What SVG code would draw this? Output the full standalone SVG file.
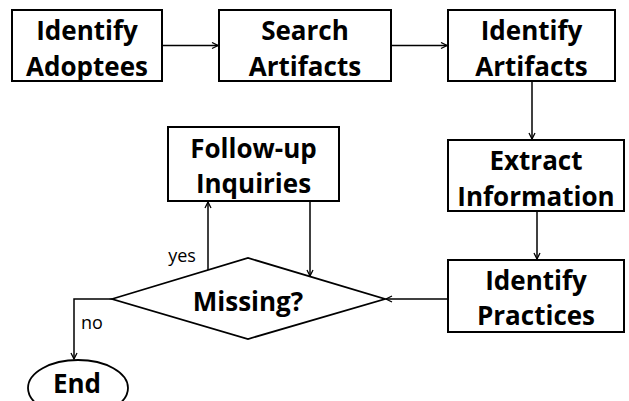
<svg xmlns="http://www.w3.org/2000/svg" width="629" height="401" viewBox="0 0 629 401">
<defs>
<style>
.box{fill:#fff;stroke:#000;stroke-width:2}
.t{font-family:"Open Sans","Liberation Sans",sans-serif;font-weight:700;font-size:26px;fill:#000;text-anchor:middle}
.l{font-family:"Open Sans","Liberation Sans",sans-serif;font-size:18px;fill:#000;text-anchor:middle}
.c{fill:none;stroke:#000;stroke-width:1.5}
</style>
<marker id="ah" markerWidth="8" markerHeight="8" refX="7" refY="4" orient="auto" markerUnits="userSpaceOnUse">
<path d="M1,1 L7,4 L1,7" fill="none" stroke="#000" stroke-width="1.3"/>
</marker>
</defs>
<rect width="629" height="401" fill="#fff"/>
<g id="connectors">
<line class="c" x1="162" y1="45.5" x2="218" y2="45.5" marker-end="url(#ah)"/>
<line class="c" x1="391" y1="45.5" x2="447" y2="45.5" marker-end="url(#ah)"/>
<line class="c" x1="532" y1="81" x2="532" y2="139" marker-end="url(#ah)"/>
<line class="c" x1="537" y1="211" x2="537" y2="259" marker-end="url(#ah)"/>
<line class="c" x1="448" y1="299" x2="386" y2="299" marker-end="url(#ah)"/>
<line class="c" x1="208" y1="270" x2="208" y2="202" marker-end="url(#ah)"/>
<line class="c" x1="310" y1="201" x2="310" y2="276" marker-end="url(#ah)"/>
<polyline class="c" points="112,299 74,299 74,359" marker-end="url(#ah)"/>
<text class="l" x="182" y="262">yes</text>
<text class="l" x="92" y="329">no</text>
</g>
<g id="identify-adoptees">
<rect class="box" x="12" y="10" width="150" height="71"/>
<text class="t" x="87" y="40">Identify</text>
<text class="t" x="87" y="76">Adoptees</text>
</g>
<g id="search-artifacts">
<rect class="box" x="219" y="10" width="172" height="71"/>
<text class="t" x="305" y="40">Search</text>
<text class="t" x="305" y="76">Artifacts</text>
</g>
<g id="identify-artifacts">
<rect class="box" x="448" y="10" width="167" height="71"/>
<text class="t" x="531.5" y="40">Identify</text>
<text class="t" x="531.5" y="76">Artifacts</text>
</g>
<g id="extract-information">
<rect class="box" x="448" y="140" width="176" height="71"/>
<text class="t" x="536" y="170">Extract</text>
<text class="t" x="536" y="206">Information</text>
</g>
<g id="identify-practices">
<rect class="box" x="448" y="260" width="176" height="72"/>
<text class="t" x="536" y="290">Identify</text>
<text class="t" x="536" y="325">Practices</text>
</g>
<g id="follow-up-inquiries">
<rect class="box" x="168" y="127" width="171" height="74"/>
<text class="t" x="253.5" y="158">Follow-up</text>
<text class="t" x="253.5" y="193">Inquiries</text>
</g>
<g id="missing">
<polygon points="112,299 248,258 385,299 248,339" fill="#fff" stroke="#000" stroke-width="1.8"/>
<text class="t" x="248" y="311">Missing?</text>
</g>
<g id="end">
<ellipse cx="78" cy="388" rx="50" ry="28" fill="#fff" stroke="#000" stroke-width="1.8"/>
<text class="t" x="77" y="393">End</text>
</g>
</svg>
